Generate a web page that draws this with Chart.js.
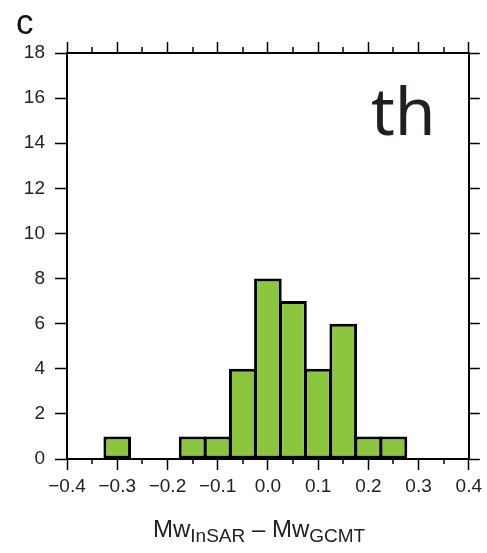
<!DOCTYPE html>
<html>
<head>
<meta charset="utf-8">
<script src="https://cdn.jsdelivr.net/npm/chart.js@4.4.0/dist/chart.umd.min.js"></script>
<style>
  html, body { margin: 0; padding: 0; background: #fff; }
  canvas { display: block; }
</style>
</head>
<body>
<canvas id="histogram" width="487" height="553"></canvas>
<script>
// Mw(InSAR) - Mw(GCMT) differences, bins 0.05 wide
const binCentres = [-0.3, -0.15, -0.1, -0.05, 0.0, 0.05, 0.1, 0.15, 0.2, 0.25];
const counts = [1, 1, 1, 4, 8, 7, 4, 6, 1, 1];
const minorTicks = [-0.35, -0.25, -0.15, -0.05, 0.05, 0.15, 0.25, 0.35];

const labelFont = { family: '"Liberation Sans", Arial, sans-serif', size: 19 };

function fixSize(prop, px) {
  return function (scale) { scale[prop] = px; };
}

// minor ticks, panel letter, inset text and the axis title with subscripts
const extras = {
  id: 'extras',
  afterDraw(chart) {
    const ctx = chart.ctx;
    const xs = chart.scales.x;
    const area = chart.chartArea;
    ctx.save();
    ctx.strokeStyle = '#000';
    ctx.lineWidth = 1.5;
    minorTicks.forEach(v => {
      const px = Math.round(xs.getPixelForValue(v));
      ctx.beginPath();
      ctx.moveTo(px, area.bottom);
      ctx.lineTo(px, area.bottom + 5);
      ctx.moveTo(px, area.top);
      ctx.lineTo(px, area.top - 6);
      ctx.stroke();
    });

    ctx.fillStyle = '#111';
    ctx.textBaseline = 'alphabetic';
    ctx.textAlign = 'left';
    ctx.font = '35px "Liberation Sans", Arial, sans-serif';
    ctx.fillText('c', 16, 34);

    ctx.fillStyle = '#231f20';
    ctx.font = '66px "Noto Sans", sans-serif';
    ctx.fillText('th', 371, 135);

    // Mw_InSAR – Mw_GCMT
    const parts = [
      ['Mw', 24, 0], ['InSAR', 19, 5], [' \u2013 ', 24, 0], ['Mw', 24, 0], ['GCMT', 19, 5]
    ];
    ctx.fillStyle = '#222';
    let x = 153;
    parts.forEach(([txt, size, drop]) => {
      ctx.font = size + 'px "Liberation Sans", Arial, sans-serif';
      ctx.fillText(txt, x, 537 + drop);
      x += ctx.measureText(txt).width;
    });
    ctx.restore();
  }
};

const ctx = document.getElementById('histogram');

new Chart(ctx, {
  type: 'bar',
  data: {
    datasets: [{
      data: binCentres.map((c, i) => ({ x: c, y: counts[i] })),
      backgroundColor: '#8cc63f',
      borderColor: '#000',
      borderWidth: 3,
      borderSkipped: false,
      barPercentage: 1.1,
      categoryPercentage: 1,
      xAxisID: 'x',
      yAxisID: 'y'
    }]
  },
  options: {
    responsive: false,
    animation: false,
    devicePixelRatio: 1,
    layout: { padding: 0, autoPadding: false },
    plugins: { legend: { display: false }, tooltip: { enabled: false } },
    scales: {
      x: {
        type: 'linear',
        position: 'bottom',
        min: -0.4,
        max: 0.4,
        offset: false,
        afterFit: fixSize('height', 94),
        ticks: {
          stepSize: 0.1,
          color: '#222',
          font: labelFont,
          padding: 5,
          maxRotation: 0,
          callback: v => (v < 0 ? '\u2212' : '') + Math.abs(v).toFixed(1)
        },
        grid: { drawOnChartArea: false, offset: false, tickLength: 11, tickColor: '#000', tickWidth: 1.5 },
        border: { display: true, color: '#000', width: 2 }
      },
      xTop: {
        type: 'linear',
        position: 'top',
        min: -0.4,
        max: 0.4,
        offset: false,
        afterFit: fixSize('height', 53),
        ticks: { stepSize: 0.1, display: false },
        grid: { drawOnChartArea: false, offset: false, tickLength: 11, tickColor: '#000', tickWidth: 1.5 },
        border: { display: true, color: '#000', width: 2 }
      },
      y: {
        type: 'linear',
        position: 'left',
        min: 0,
        max: 18,
        afterFit: fixSize('width', 67),
        ticks: { stepSize: 2, color: '#222', font: labelFont, padding: 10 },
        grid: { drawOnChartArea: false, tickLength: 12, tickColor: '#000', tickWidth: 1.5 },
        border: { display: true, color: '#000', width: 2 }
      },
      yRight: {
        type: 'linear',
        position: 'right',
        min: 0,
        max: 18,
        afterFit: fixSize('width', 16),
        ticks: { stepSize: 2, display: false },
        grid: { drawOnChartArea: false, tickLength: 11, tickColor: '#000', tickWidth: 1.5 },
        border: { display: true, color: '#000', width: 2 }
      }
    }
  },
  plugins: [extras]
});
</script>
</body>
</html>
